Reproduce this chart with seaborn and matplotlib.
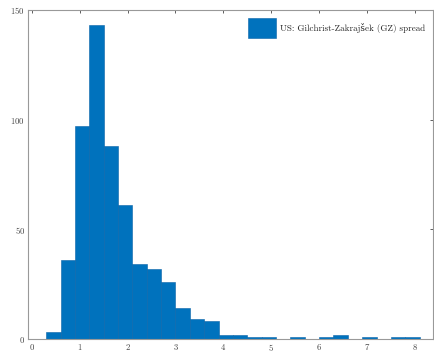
import numpy as np
import pandas as pd
import matplotlib
matplotlib.use("Agg")
import matplotlib.pyplot as plt
import seaborn as sns

# Histogram data (bin edges and counts)
bin_edges = [0.3, 0.6, 0.9, 1.2, 1.5, 1.8, 2.1, 2.4, 2.7, 3.0, 3.3, 3.6, 3.9,
             4.2, 4.5, 4.8, 5.1, 5.4, 5.7, 6.0, 6.3, 6.6, 6.9, 7.2, 7.5, 7.8, 8.1]
counts = [3, 36, 97, 143, 88, 61, 34, 32, 26, 14, 9, 8, 2,
          2, 1, 1, 0, 1, 0, 1, 2, 0, 1, 0, 1, 1]
series_label = "US: Gilchrist-Zakrajšek (GZ) spread"
x_ticks = [0, 1, 2, 3, 4, 5, 6, 7, 8]
y_ticks = [0, 50, 100, 150]

edges = np.array(bin_edges)
centers = (edges[:-1] + edges[1:]) / 2
df = pd.DataFrame({"spread": centers, "count": counts})

sns.set_style("white")
plt.rcParams["font.family"] = ["cmr10", "DejaVu Serif"]
plt.rcParams["axes.formatter.use_mathtext"] = True

fig = plt.figure(figsize=(4.35, 3.55), dpi=100)
ax = fig.add_axes([28 / 435, 1 - 339 / 355, (433 - 28) / 435, (339 - 10) / 355])

sns.histplot(data=df, x="spread", weights="count", bins=list(bin_edges), ax=ax,
             color="#0072BD", alpha=1.0, edgecolor="#0A63A8", linewidth=0.4,
             label=series_label)

ax.set_xlim(-0.08, 8.38)
ax.set_ylim(0, 150)
ax.set_xticks(x_ticks)
ax.set_yticks(y_ticks)
ax.set_xlabel("")
ax.set_ylabel("")
ax.tick_params(axis="both", direction="in", length=2.5, width=0.6,
               labelsize=6.3, colors="#444444", top=True, right=True,
               pad=2)
for s in ax.spines.values():
    s.set_visible(True)
    s.set_color("#999999")
    s.set_linewidth(0.8)

leg = ax.legend(loc="upper right", fontsize=6.5, frameon=False,
                handlelength=3.1, handleheight=3.0, handletextpad=0.4,
                borderaxespad=0.5)

fig.savefig("out.png", dpi=100)
